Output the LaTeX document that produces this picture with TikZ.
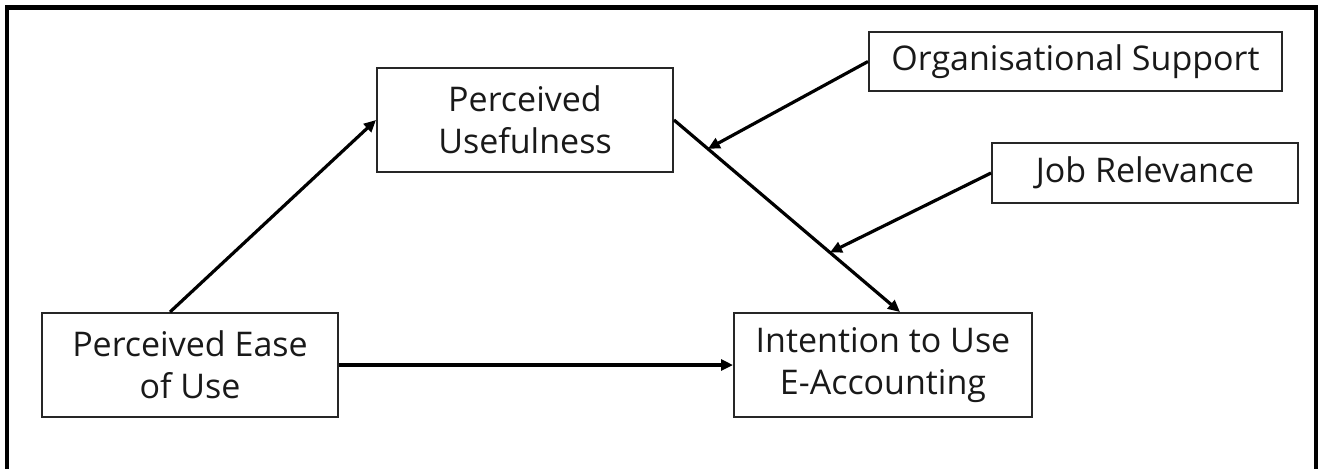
\documentclass[tikz,border=0pt]{standalone}
\usepackage{fontspec}
\setmainfont{Open Sans}
\usetikzlibrary{arrows.meta,calc}
\tikzset{
  box/.style={draw=black!85, line width=1pt, inner sep=0pt, align=center,
    font=\fontsize{17}{21}\selectfont, text=black!90},
  arr/.style={line width=1.6pt, -{Triangle[length=6pt,width=5.5pt]}},
  frame/.style={line width=2.4pt}
}
\begin{document}
\begin{tikzpicture}[x=0.5pt,y=-0.5pt]
\useasboundingbox (0,0) rectangle (1322,468);
\draw[frame] (7,470) -- (7,7.5) -- (1316,7.5) -- (1316,470);
\node[box, minimum width=148pt, minimum height=52pt] (peou) at (190,365) {Perceived Ease\\of Use};
\node[box, minimum width=149pt, minimum height=52pt] (iu) at (883,365) {Intention to Use\\E-Accounting};
\node[box, minimum width=148pt, minimum height=52pt] (pu) at (525,120) {Perceived\\Usefulness};
\node[box, minimum width=206.5pt, minimum height=29.5pt] (org) at (1075.5,61.5) {Organisational Support};
\node[box, minimum width=153pt, minimum height=30pt] (job) at (1145,173) {Job Relevance};
\coordinate (iutop) at ([xshift=8.5pt]iu.north);
\coordinate (m1) at ($(pu.east)!0.15!(iutop)$);
\coordinate (m2) at ($(pu.east)!0.69!(iutop)$);
\draw[arr] ([xshift=-10pt]peou.north) -- (pu.west);
\draw[arr] (peou.east) -- (iu.west);
\draw[arr] (pu.east) -- (iutop);
\draw[arr] (org.west) -- (m1);
\draw[arr] (job.west) -- (m2);
\end{tikzpicture}
\end{document}
